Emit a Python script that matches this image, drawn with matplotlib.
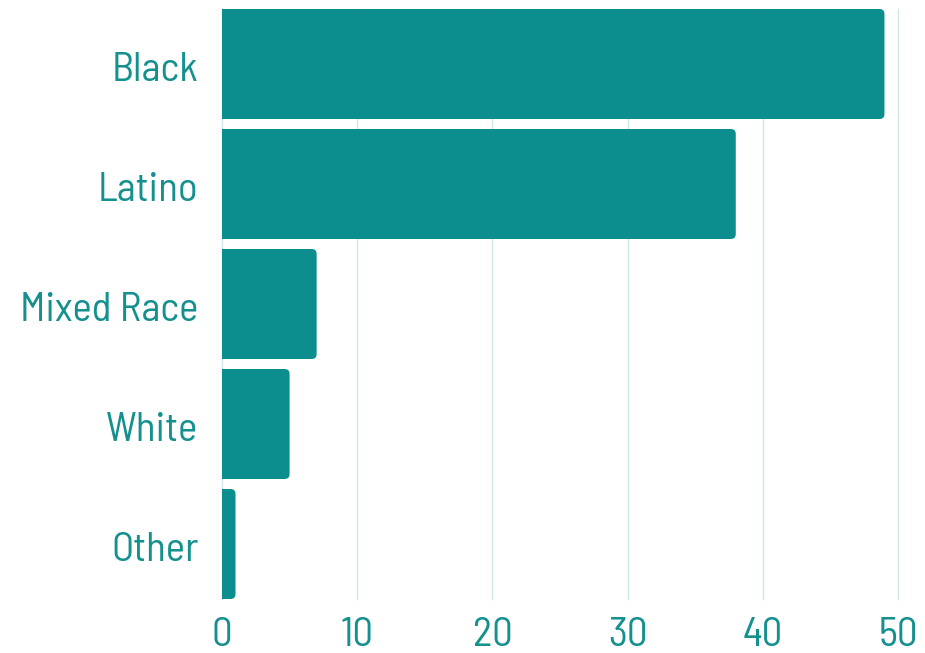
import matplotlib
matplotlib.use("Agg")
import matplotlib.pyplot as plt
import matplotlib.transforms as mtransforms
from matplotlib.patches import FancyBboxPatch, Rectangle

categories = ["Black", "Latino", "Mixed Race", "White", "Other"]
values = [49, 38, 7, 5, 1]
xticks = [0, 10, 20, 30, 40, 50]

BAR = "#0d8e8e"
TXT = "#14908f"
GRID = "#cfe6e7"
FONT = "Barlow Semi Condensed"

W, H = 925, 653
fig = plt.figure(figsize=(W / 100, H / 100), dpi=100)
left, right, top, bottom = 222, 898, 9, 599
ax = fig.add_axes([left / W, (H - bottom) / H, (right - left) / W, (bottom - top) / H])

h = 110 / 120
ax.set_xlim(0, 50)
ax.set_ylim(len(categories) - 1 + h / 2, -h / 2)

ax.set_axisbelow(True)
ax.grid(axis="x", color=GRID, linewidth=1)
ax.grid(axis="y", visible=False)
for gl in ax.get_xgridlines():
    gl.set_clip_on(False)
for s in ax.spines.values():
    s.set_visible(False)

bars = ax.barh(range(len(categories)), values, height=h, color=BAR, linewidth=0)
# rounded right corners (radius ~5 px)
px_x = (right - left) / 50.0
px_y = (bottom - top) / (len(categories) - 1 + h)
r_x = 5 / px_x
aspect = (5 / px_y) / r_x
for b in bars:
    x0, y0 = b.get_x(), b.get_y()
    w, hh = b.get_width(), b.get_height()
    b.set_visible(False)
    p = FancyBboxPatch((x0, y0), w, hh,
                       boxstyle=f"round,pad=0,rounding_size={r_x}",
                       mutation_aspect=aspect, facecolor=BAR, edgecolor="none")
    ax.add_patch(p)
    ax.add_patch(Rectangle((x0, y0), min(w, r_x), hh, facecolor=BAR, edgecolor="none"))

ax.set_yticks(range(len(categories)))
ax.set_yticklabels(categories)
ax.set_xticks(xticks)
ax.set_xticklabels([str(t) for t in xticks])
ax.tick_params(axis="both", length=0, colors=TXT, labelsize=29.5)
ax.tick_params(axis="y", pad=17)
ax.tick_params(axis="x", pad=13)
for lab in ax.get_xticklabels() + ax.get_yticklabels():
    lab.set_fontfamily(FONT)
    lab.set_fontweight("normal")
shift = mtransforms.ScaledTranslation(0, -1.5 / 72, fig.dpi_scale_trans)
for lab in ax.get_yticklabels():
    lab.set_verticalalignment("center_baseline")
    lab.set_transform(lab.get_transform() + shift)

fig.savefig("out.png", dpi=100)
